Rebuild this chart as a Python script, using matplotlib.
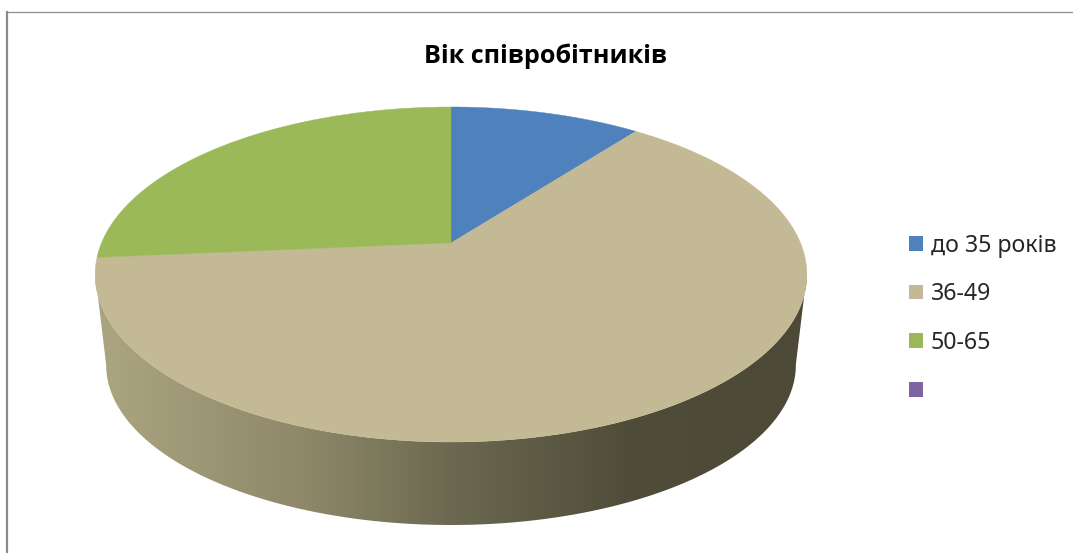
import numpy as np
import matplotlib
matplotlib.use("Agg")
import matplotlib.pyplot as plt
from matplotlib.colors import LinearSegmentedColormap
from matplotlib.patches import Patch, Polygon

# Chart content
title = "Вік співробітників"
categories = ["до 35 років", "36-49", "50-65", " "]
shares = [10.4, 63.2, 26.4, 0.0]
face_colors = ["#4F81BD", "#C3BA95", "#9BB959", "#8064A2"]

# Projection of the disc onto the canvas, in pixels
APEX_X, APEX_Y = 451.0, 243.0
SCALE_X, SCALE_Y, TILT = 349.5, 115.9, 0.188
TOP_CY, BOTTOM_CY = 274.5, 365.0
SHRINK_X, SHRINK_Y = 345.0 / 356.0, 160.0 / 167.5
RIM_OFFSET = 0.186  # angle past three o'clock where the rim is widest


def project(theta):
    """Map a clockwise angle from twelve o'clock to the tilted top face."""
    u, v = np.sin(theta), np.cos(theta)
    w = 1.0 + TILT * v
    return APEX_X + SCALE_X * u / w, (APEX_Y - SCALE_Y * v) / w


def lower_rim(x, y):
    return APEX_X + (x - APEX_X) * SHRINK_X, BOTTOM_CY + (y - TOP_CY) * SHRINK_Y


plt.rcParams["font.family"] = ["Noto Sans", "DejaVu Sans"]
fig = plt.figure(figsize=(10.73, 5.53), dpi=100, facecolor="white")
ax = fig.add_axes([0, 0, 1, 1])
ax.set_xlim(0, 1073)
ax.set_ylim(553, 0)
ax.axis("off")

# Frame remnants along the top and left edges
ax.plot([6, 1073], [11.5, 11.5], color="#8c8c8c", lw=0.9, solid_capstyle="butt")
ax.plot([7, 7], [11, 553], color="#8c8c8c", lw=1.6, solid_capstyle="butt")

# Side wall: horizontal shading clipped to the outline of the front rim
side_cmap = LinearSegmentedColormap.from_list(
    "side",
    [(0.0, "#ADA682"), (0.30, "#8E8869"), (0.50, "#6B6950"),
     (0.75, "#4F4C39"), (1.0, "#4D4937")],
)
angles = np.linspace(np.pi / 2 + RIM_OFFSET, 3 * np.pi / 2 - RIM_OFFSET, 400)
xs, ys = project(angles)
bx, by = lower_rim(xs, ys)
outline = np.column_stack([np.r_[xs, bx[::-1]], np.r_[ys, by[::-1]]])
wall = Polygon(outline, closed=True, facecolor="none", edgecolor="none",
               zorder=2)
ax.add_patch(wall)
shade = ax.imshow(np.linspace(0, 1, 256)[None, :], cmap=side_cmap, aspect="auto",
                  extent=(90, 812, 540, 200), zorder=2, interpolation="bilinear")
shade.set_clip_path(wall)
ax.set_xlim(0, 1073)
ax.set_ylim(553, 0)

# Top face: one wedge per category with a non-zero share
start = 0.0
total = sum(shares)
for share, color in zip(shares, face_colors):
    if share == 0:
        continue
    sweep = 2 * np.pi * share / total
    t = np.linspace(start, start + sweep, 240)
    px, py = project(t)
    verts = np.column_stack([np.r_[APEX_X, px], np.r_[APEX_Y, py]])
    ax.add_patch(Polygon(verts, closed=True, facecolor=color, edgecolor=color,
                         lw=0.3, zorder=3))
    start += sweep

ax.text(545.5, 56, title, ha="center", va="center", fontsize=18.1,
        family=["Open Sans", "DejaVu Sans"], fontweight="bold", color="black")

handles = [Patch(facecolor=c, edgecolor="none") for c in face_colors]
ax.legend(handles, categories, loc="center left",
          bbox_to_anchor=(909 / 1073, 1 - 318.5 / 553), frameon=False,
          fontsize=16.7, handlelength=0.6, handleheight=0.6,
          handletextpad=0.33, labelspacing=1.06, labelcolor="#262626",
          borderpad=0, borderaxespad=0)

fig.savefig("out.png", dpi=100, facecolor="white")
